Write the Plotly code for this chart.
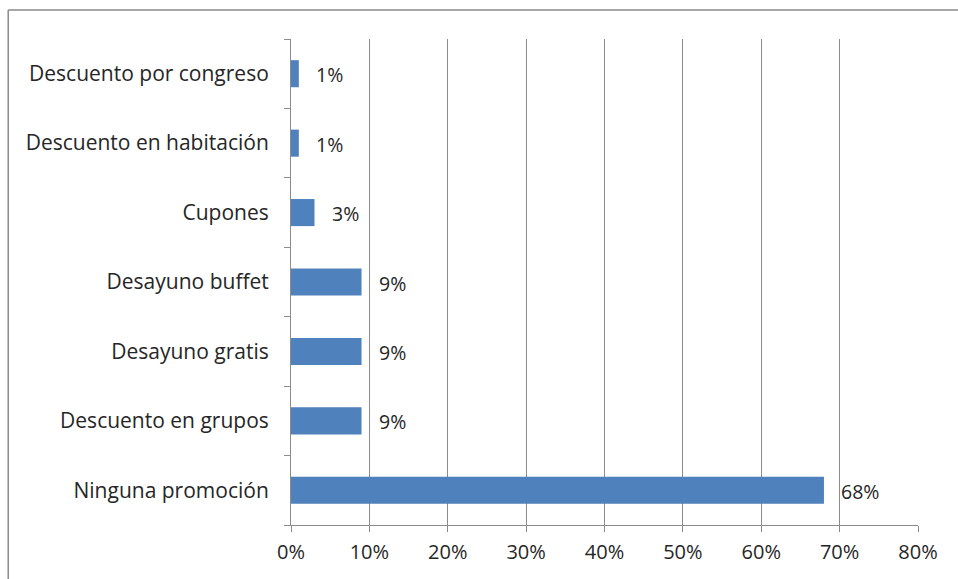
import plotly.graph_objects as go

categories = ["Ninguna promoción", "Descuento en grupos", "Desayuno gratis",
              "Desayuno buffet", "Cupones", "Descuento en habitación",
              "Descuento por congreso"]
values = [0.68, 0.09, 0.09, 0.09, 0.03, 0.01, 0.01]
labels = ["68%", "9%", "9%", "9%", "3%", "1%", "1%"]

FONT = "Open Sans"
TXT = "#262626"
GRID = "#8c8c8c"

fig = go.Figure()
fig.add_trace(go.Bar(
    x=values, y=categories, orientation="h",
    marker=dict(color="#4F81BD", line=dict(width=0)),
    hoverinfo="skip",
))

for v, c, t in zip(values, categories, labels):
    fig.add_annotation(x=v, y=c, text=t, showarrow=False, xanchor="left",
                       xshift=15, yshift=-1,
                       font=dict(family=FONT, size=19.5, color=TXT))

# outer chart border (only top/left visible in reference)
fig.add_shape(type="line", xref="paper", yref="paper",
              x0=-0.451, x1=1.2, y0=1.0597, y1=1.0597,
              line=dict(color="#8a8a8a", width=1.5))
fig.add_shape(type="line", xref="paper", yref="paper",
              x0=-0.451, x1=-0.451, y0=-0.2, y1=1.0597,
              line=dict(color="#8a8a8a", width=1.5))

fig.update_layout(
    width=958, height=579,
    margin=dict(l=291, r=40, t=39, b=54),
    paper_bgcolor="white", plot_bgcolor="white",
    bargap=0.61, showlegend=False,
    font=dict(family=FONT, size=19, color=TXT),
    xaxis=dict(range=[0, 0.8], dtick=0.1, tickformat=".0%",
               showgrid=True, gridcolor=GRID, gridwidth=1,
               zeroline=False, showline=True, linecolor=GRID, linewidth=1,
               ticks="outside", ticklen=6, tickcolor=GRID,
               ticklabelstandoff=3,
               tickfont=dict(family=FONT, size=20, color=TXT),
               fixedrange=True),
    yaxis=dict(type="category", categoryorder="array", categoryarray=categories,
               tickson="boundaries", ticks="outside", ticklen=6, tickcolor=GRID,
               showline=True, linecolor=GRID, linewidth=1, showgrid=False,
               ticklabelstandoff=17,
               tickfont=dict(family=FONT, size=21, color=TXT),
               fixedrange=True),
)

fig.write_html("out.html", config={"displayModeBar": False})
